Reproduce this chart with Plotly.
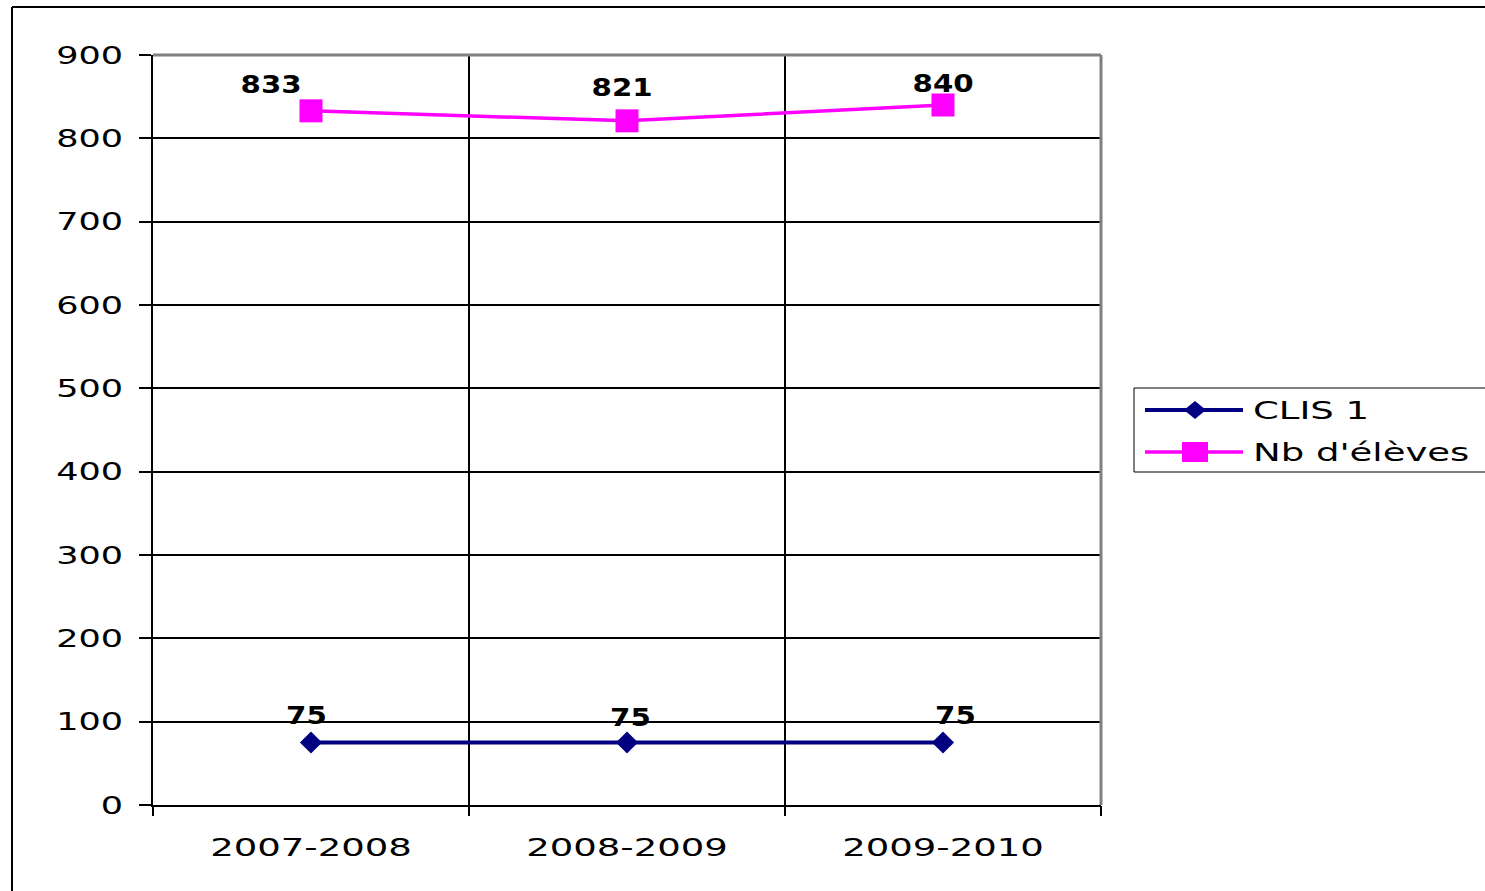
import plotly.graph_objects as go

# chart data
years = ["2007-2008", "2008-2009", "2009-2010"]
clis = [75, 75, 75]
eleves = [833, 821, 840]
series_names = ["CLIS 1", "Nb d'élèves"]

# label nudges (px) to mimic the Excel placement
clis_dx = [-5, 3, 12]
clis_dy = [27, 25, 27]
eleves_dx = [-40, -5, 0]
eleves_dy = [26, 33, 22]

NAVY = "#000080"
PINK = "#FF00FF"

W, H = 1485, 891
L, R, T, B = 153, 1101, 55, 805


def px_x(p):
    return (p - L) / (R - L)


def px_y(p):
    return (B - p) / (B - T)


pos = list(range(len(years)))
fig = go.Figure()

fig.add_trace(go.Scatter(
    x=pos, y=clis, name=series_names[0], mode="lines+markers",
    line=dict(color=NAVY, width=4),
    marker=dict(symbol="diamond", size=17, color=NAVY),
))
fig.add_trace(go.Scatter(
    x=pos, y=eleves, name=series_names[1], mode="lines+markers",
    line=dict(color=PINK, width=3.5),
    marker=dict(symbol="square", size=23, color=PINK),
))
# invisible trace so the boundary axis gets drawn
fig.add_trace(go.Scatter(x=[-0.5, 2.5], y=[0, 0], xaxis="x2", mode="none",
                         showlegend=False, hoverinfo="skip"))

lab_font = dict(family="DejaVu Sans", size=25, color="black", weight="bold")
for i in pos:
    fig.add_annotation(x=i, y=clis[i], text=str(clis[i]), showarrow=False,
                       xshift=clis_dx[i], yshift=clis_dy[i], font=lab_font)
    fig.add_annotation(x=i, y=eleves[i], text=str(eleves[i]), showarrow=False,
                       xshift=eleves_dx[i], yshift=eleves_dy[i], font=lab_font)
n_labels = len(fig.layout.annotations)

# outer chart border (left and top visible; runs off the right and bottom)
border = dict(type="line", xref="paper", yref="paper", line=dict(color="black", width=2))
fig.add_shape(x0=px_x(12), x1=px_x(12), y0=px_y(7), y1=px_y(960), **border)
fig.add_shape(x0=px_x(12), x1=px_x(1500), y0=px_y(7), y1=px_y(7), **border)
# grey plot-area frame on top and right
frame = dict(type="line", xref="paper", yref="paper", line=dict(color="#808080", width=3))
fig.add_shape(x0=0, x1=1, y0=1, y1=1, **frame)
fig.add_shape(x0=1, x1=1, y0=0, y1=1, **frame)

# legend box, drawn by hand so it can run off the right edge like the original
fig.add_shape(type="rect", xref="paper", yref="paper",
              x0=px_x(1134), x1=px_x(1500), y0=px_y(472), y1=px_y(388),
              line=dict(color="black", width=1), fillcolor="white")
rows = [(410, NAVY, "diamond", 4), (452, PINK, "square", 3.5)]
for (ry, col, sym, lw), name in zip(rows, series_names):
    fig.add_shape(type="line", xref="paper", yref="paper",
                  x0=px_x(1145), x1=px_x(1243), y0=px_y(ry), y1=px_y(ry),
                  line=dict(color=col, width=lw))
    if sym == "diamond":
        path = "M %f %f L %f %f L %f %f L %f %f Z" % (
            px_x(1184), px_y(ry), px_x(1195), px_y(ry - 9),
            px_x(1206), px_y(ry), px_x(1195), px_y(ry + 9))
        fig.add_shape(type="path", xref="paper", yref="paper", path=path,
                      fillcolor=col, line=dict(color=col, width=0))
    else:
        fig.add_shape(type="rect", xref="paper", yref="paper",
                      x0=px_x(1182), x1=px_x(1208), y0=px_y(ry + 10), y1=px_y(ry - 10),
                      fillcolor=col, line=dict(color=col, width=0))
    fig.add_annotation(xref="paper", yref="paper", x=px_x(1251), y=px_y(ry),
                       xanchor="left", yanchor="middle", align="left",
                       text=name, showarrow=False,
                       font=dict(family="DejaVu Sans", size=25, color="black"))

tick_font = dict(family="DejaVu Sans", size=25, color="black")
fig.update_layout(
    width=W, height=H,
    margin=dict(l=L, r=W - R, t=T, b=H - B),
    paper_bgcolor="white", plot_bgcolor="white",
    showlegend=False,
    xaxis=dict(
        range=[-0.5, 2.5], tickvals=pos, ticktext=years, ticks="",
        showgrid=False, zeroline=False, showline=True, linecolor="black",
        linewidth=2, tickfont=tick_font, ticklabelstandoff=19,
    ),
    xaxis2=dict(
        overlaying="x", anchor="y", side="bottom", range=[-0.5, 2.5],
        tickvals=[-0.5, 0.5, 1.5, 2.5], showticklabels=False,
        ticks="outside", ticklen=10, tickwidth=2, tickcolor="black",
        showgrid=True, gridcolor="black", gridwidth=2, zeroline=False,
    ),
    yaxis=dict(
        range=[0, 900], dtick=100, ticks="outside", ticklen=12, tickwidth=2,
        tickcolor="black", showgrid=True, gridcolor="black", gridwidth=2,
        zeroline=False, showline=True, linecolor="black", linewidth=2,
        tickfont=tick_font, ticklabelstandoff=11,
    ),
)

# no page margin; the original text is drawn horizontally stretched
js = """
document.body.style.margin = '0';
var gd = document.getElementById('{plot_id}');
function stretch(t, k) {
    var w = t.getComputedTextLength();
    t.setAttribute('textLength', w * k);
    t.setAttribute('lengthAdjust', 'spacingAndGlyphs');
}
gd.querySelectorAll('.xtick text').forEach(function(t) { stretch(t, 1.48); });
gd.querySelectorAll('.ytick text').forEach(function(t) { stretch(t, 1.4); });
gd.querySelectorAll('g.annotation').forEach(function(a) {
    var i = +a.getAttribute('data-index');
    var t = a.querySelector('text');
    if (t) stretch(t, (i < %d) ? 1.17 : 1.48);
});
""" % n_labels

fig.write_html("out.html", post_script=js, config={"displayModeBar": False})
